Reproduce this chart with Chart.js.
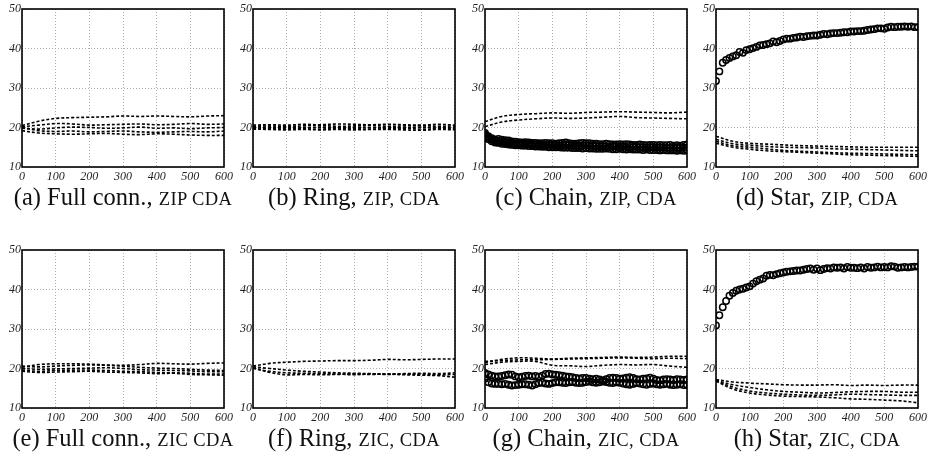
<!DOCTYPE html>
<html>
<head>
<meta charset="utf-8">
<script src="https://cdn.jsdelivr.net/npm/chart.js@4/dist/chart.umd.min.js"></script>
<style>
  body { margin: 0; background: #fff; }
  #fig { position: relative; width: 929px; height: 460px; overflow: hidden; background: #fff; }
  canvas { position: absolute; }
  .cap { position: absolute; width: 240px; text-align: center; font-family: 'Liberation Serif', 'DejaVu Serif', serif;
         font-size: 24.5px; line-height: 28px; color: #111; white-space: nowrap; }
  .sc { font-size: 18.5px; letter-spacing: 0.4px; }
</style>
</head>
<body>
<div id="fig"></div>
<script>
// x positions: dashed curves sampled every 50, marker curves every 10
var xCoarse = [0, 50, 100, 150, 200, 250, 300, 350, 400, 450, 500, 550, 600];
var xFine = [0, 10, 20, 30, 40, 50, 60, 70, 80, 90, 100, 110, 120, 130, 140, 150, 160, 170, 180, 190, 200,
             210, 220, 230, 240, 250, 260, 270, 280, 290, 300, 310, 320, 330, 340, 350, 360, 370, 380, 390, 400,
             410, 420, 430, 440, 450, 460, 470, 480, 490, 500, 510, 520, 530, 540, 550, 560, 570, 580, 590, 600];

// (a) Full conn., ZIP
var fullZip1 = [20.5, 21.6, 22.3, 22.5, 22.6, 22.7, 22.9, 22.8, 22.9, 22.8, 22.7, 22.9, 23.0];
var fullZip2 = [20.2, 20.6, 21.0, 20.9, 20.6, 20.7, 20.8, 20.9, 20.7, 20.8, 21.0, 20.8, 20.9];
var fullZip3 = [19.8, 19.6, 19.9, 20.1, 20.0, 19.8, 19.9, 20.1, 19.8, 19.9, 19.7, 19.9, 20.0];
var fullZip4 = [20.0, 19.2, 19.0, 19.1, 18.9, 19.0, 19.1, 18.9, 18.8, 18.9, 19.0, 18.9, 19.1];
var fullZip5 = [19.2, 18.6, 18.4, 18.3, 18.4, 18.5, 18.3, 18.2, 18.4, 18.3, 18.1, 18.0, 18.0];

// (b) Ring, ZIP
var ringZip1 = [20.6, 20.7, 20.6, 20.8, 20.7, 20.9, 20.8, 20.7, 20.8, 20.7, 20.6, 20.8, 20.6];
var ringZip2 = [20.3, 20.4, 20.3, 20.4, 20.5, 20.3, 20.4, 20.5, 20.3, 20.4, 20.5, 20.3, 20.4];
var ringZip3 = [20.0, 20.1, 20.0, 19.9, 20.1, 20.0, 20.1, 20.0, 19.9, 20.0, 20.1, 20.0, 20.0];
var ringZip4 = [19.8, 19.7, 19.8, 19.7, 19.6, 19.8, 19.7, 19.6, 19.7, 19.8, 19.6, 19.7, 19.7];
var ringZip5 = [19.6, 19.5, 19.4, 19.5, 19.4, 19.5, 19.4, 19.5, 19.5, 19.4, 19.3, 19.5, 19.4];

// (c) Chain, ZIP
var chainZipD1 = [21.5, 22.8, 23.3, 23.5, 23.7, 23.6, 23.8, 23.9, 24.0, 23.9, 23.8, 23.7, 23.9];
var chainZipD2 = [20.2, 21.4, 21.9, 22.2, 22.4, 22.3, 22.4, 22.6, 22.8, 22.5, 22.4, 22.3, 22.2];
var chainZipM1 = [18.6, 17.8, 17.3, 17.0, 17.1, 16.9, 16.8, 16.7, 16.5, 16.4, 16.3, 16.2, 16.3, 16.2, 16.1, 16.1, 16.0, 16.0, 16.1, 16.0, 16.0,
                  15.9, 16.0, 16.1, 16.2, 16.0, 15.9, 15.9, 16.0, 16.1, 16.0, 16.0, 15.9, 15.9, 15.8, 15.8, 15.9, 15.8, 15.7, 15.7, 15.8,
                  15.7, 15.8, 15.7, 15.6, 15.6, 15.7, 15.6, 15.5, 15.6, 15.6, 15.5, 15.6, 15.5, 15.5, 15.6, 15.4, 15.5, 15.4, 15.6, 15.7];
var chainZipM2 = [18.2, 17.4, 16.9, 16.6, 16.6, 16.4, 16.3, 16.2, 16.0, 15.9, 15.9, 15.8, 15.9, 15.8, 15.7, 15.7, 15.6, 15.6, 15.5, 15.5, 15.6,
                  15.5, 15.4, 15.5, 15.6, 15.5, 15.4, 15.4, 15.3, 15.4, 15.5, 15.4, 15.3, 15.3, 15.2, 15.3, 15.2, 15.1, 15.2, 15.2, 15.1,
                  15.2, 15.1, 15.0, 15.1, 15.1, 15.0, 15.0, 14.9, 15.0, 15.0, 14.9, 15.0, 14.9, 14.9, 14.8, 14.9, 14.8, 14.8, 14.9, 14.9];
var chainZipM3 = [18.0, 17.0, 16.5, 16.2, 16.1, 15.9, 15.8, 15.7, 15.6, 15.5, 15.5, 15.4, 15.4, 15.3, 15.3, 15.2, 15.2, 15.1, 15.1, 15.0, 15.0,
                  15.0, 15.0, 14.9, 14.9, 14.9, 14.8, 14.8, 14.8, 14.7, 14.8, 14.7, 14.7, 14.6, 14.6, 14.6, 14.7, 14.6, 14.5, 14.5, 14.6,
                  14.5, 14.4, 14.5, 14.4, 14.4, 14.4, 14.3, 14.4, 14.3, 14.3, 14.3, 14.2, 14.3, 14.2, 14.2, 14.2, 14.1, 14.2, 14.1, 14.2];

// (d) Star, ZIP
var starZipD1 = [17.8, 16.5, 16.0, 15.8, 15.6, 15.4, 15.3, 15.2, 15.1, 15.0, 15.0, 15.0, 15.0];
var starZipD2 = [17.0, 15.9, 15.5, 15.2, 15.0, 14.9, 14.8, 14.6, 14.5, 14.4, 14.3, 14.2, 14.1];
var starZipD3 = [16.5, 15.4, 15.0, 14.6, 14.2, 14.0, 13.8, 13.6, 13.5, 13.4, 13.3, 13.2, 13.1];
var starZipD4 = [16.0, 15.0, 14.5, 14.1, 13.9, 13.7, 13.5, 13.3, 13.1, 13.0, 12.9, 12.8, 12.7];
var starZipM1 = [31.8, 34.2, 36.4, 37.1, 37.6, 38.0, 38.3, 39.1, 38.9, 39.6, 39.8, 40.1, 40.4, 40.8, 40.9, 41.1, 41.3, 41.8, 41.6, 41.9, 42.3,
                 42.5, 42.5, 42.7, 42.8, 43.0, 42.9, 43.1, 43.2, 43.3, 43.3, 43.5, 43.7, 43.6, 43.8, 43.9, 43.9, 44.0, 44.1, 44.1, 44.3,
                 44.3, 44.4, 44.4, 44.5, 44.7, 44.8, 44.9, 45.1, 45.1, 45.0, 45.3, 45.5, 45.4, 45.5, 45.5, 45.6, 45.5, 45.6, 45.4, 45.4];

// (e) Full conn., ZIC
var fullZic1 = [20.3, 21.0, 21.2, 21.2, 21.1, 20.9, 20.8, 21.0, 21.3, 21.2, 21.1, 21.3, 21.4];
var fullZic2 = [20.6, 20.4, 20.6, 20.8, 20.9, 20.8, 20.6, 20.3, 20.1, 20.0, 19.8, 19.6, 19.5];
var fullZic3 = [20.0, 19.8, 19.9, 20.0, 20.1, 20.2, 20.0, 19.7, 19.6, 19.5, 19.4, 19.2, 19.2];
var fullZic4 = [19.6, 19.3, 19.5, 19.6, 19.6, 19.5, 19.3, 19.2, 19.0, 18.9, 18.8, 18.6, 18.6];
var fullZic5 = [19.3, 19.0, 19.1, 19.2, 19.3, 19.1, 19.0, 18.9, 18.7, 18.8, 18.5, 18.4, 18.3];

// (f) Ring, ZIC
var ringZic1 = [20.6, 21.3, 21.6, 21.8, 21.9, 22.0, 22.0, 22.1, 22.3, 22.2, 22.3, 22.4, 22.4];
var ringZic2 = [20.4, 20.0, 19.6, 19.3, 19.1, 18.9, 18.8, 18.7, 18.6, 18.7, 18.8, 18.7, 18.9];
var ringZic3 = [20.2, 19.0, 18.4, 18.5, 18.4, 18.5, 18.6, 18.5, 18.6, 18.4, 18.3, 18.2, 17.8];
var ringZic4 = [20.0, 19.3, 18.9, 18.8, 18.7, 18.6, 18.4, 18.6, 18.5, 18.6, 18.5, 18.4, 18.5];

// (g) Chain, ZIC
var chainZicD1 = [21.5, 22.3, 22.7, 22.6, 22.4, 22.6, 22.7, 22.8, 22.9, 22.8, 22.9, 23.1, 23.1];
var chainZicD2 = [21.8, 22.0, 22.2, 22.2, 22.3, 22.4, 22.5, 22.6, 22.7, 22.6, 22.5, 22.6, 22.5];
var chainZicD3 = [21.0, 21.6, 21.8, 21.8, 20.8, 20.7, 20.5, 20.8, 21.0, 20.9, 21.0, 20.6, 20.3];
var chainZicM1 = [18.9, 18.5, 18.2, 18.0, 18.0, 18.1, 18.3, 18.5, 18.4, 18.0, 17.8, 17.9, 18.1, 18.2, 18.0, 18.1, 17.9, 18.2, 18.6, 18.7, 18.5,
                  18.4, 18.3, 18.2, 18.0, 17.9, 17.8, 17.6, 17.5, 17.6, 17.6, 17.4, 17.3, 17.4, 17.2, 17.0, 17.3, 17.6, 17.7, 17.6, 17.4,
                  17.5, 17.7, 17.8, 17.6, 17.3, 17.2, 17.4, 17.5, 17.7, 17.4, 17.1, 17.0, 17.2, 17.3, 17.2, 17.1, 17.3, 17.2, 17.1, 17.2];
var chainZicM2 = [17.4, 16.5, 16.2, 16.1, 16.1, 16.0, 16.1, 15.9, 15.7, 15.8, 15.9, 16.0, 16.0, 15.9, 15.7, 16.0, 16.3, 16.4, 16.2, 16.1, 16.3,
                  16.5, 16.5, 16.4, 16.3, 16.5, 16.6, 16.4, 16.3, 16.4, 16.6, 16.7, 16.5, 16.4, 16.5, 16.7, 16.6, 16.4, 16.3, 16.5, 16.4,
                  16.2, 16.0, 15.9, 16.1, 16.3, 16.2, 16.0, 15.9, 16.1, 16.2, 16.0, 15.9, 16.0, 16.1, 15.9, 15.8, 15.9, 16.0, 15.8, 15.8];

// (h) Star, ZIC
var starZicD1 = [17.2, 16.6, 16.3, 16.1, 15.9, 15.8, 15.8, 15.9, 15.7, 15.8, 15.7, 15.8, 15.8];
var starZicD2 = [17.0, 15.9, 15.2, 14.6, 14.2, 14.0, 13.8, 13.9, 14.1, 14.2, 14.2, 14.0, 14.0];
var starZicD3 = [16.9, 15.3, 14.3, 13.8, 13.5, 13.3, 13.2, 13.3, 13.5, 13.4, 13.3, 13.2, 13.2];
var starZicD4 = [16.8, 14.8, 13.8, 13.3, 13.0, 12.9, 12.8, 12.6, 12.3, 12.2, 12.0, 11.8, 11.3];
var starZicM1 = [30.9, 33.5, 35.5, 37.1, 38.4, 39.1, 39.7, 40.0, 40.2, 40.5, 40.8, 41.5, 42.1, 42.5, 42.8, 43.5, 43.7, 43.6, 43.9, 44.1, 44.3,
                 44.5, 44.6, 44.7, 44.8, 44.8, 45.0, 45.2, 45.3, 45.0, 45.3, 44.9, 45.2, 45.4, 45.3, 45.6, 45.5, 45.6, 45.3, 45.7, 45.5,
                 45.5, 45.4, 45.6, 45.3, 45.7, 45.5, 45.6, 45.8, 45.6, 45.7, 45.6, 45.9, 45.8, 45.5, 45.6, 45.7, 45.6, 45.7, 45.8, 45.8];

var xTicksMin = 0, xTicksMax = 600, xStep = 100;
var yTicksMin = 10, yTicksMax = 50, yStep = 10;

var panels = [
  { left: 22,  top: 9,   dashed: [fullZip1, fullZip2, fullZip3, fullZip4, fullZip5], marks: [],
    cap: ['(a) Full conn., ', 'ZIP CDA'] },
  { left: 253, top: 9,   dashed: [ringZip1, ringZip2, ringZip3, ringZip4, ringZip5], marks: [],
    cap: ['(b) Ring, ', 'ZIP, CDA'] },
  { left: 485, top: 9,   dashed: [chainZipD1, chainZipD2], marks: [chainZipM1, chainZipM2, chainZipM3],
    cap: ['(c) Chain, ', 'ZIP, CDA'] },
  { left: 716, top: 9,   dashed: [starZipD1, starZipD2, starZipD3, starZipD4], marks: [starZipM1],
    cap: ['(d) Star, ', 'ZIP, CDA'] },
  { left: 22,  top: 250, dashed: [fullZic1, fullZic2, fullZic3, fullZic4, fullZic5], marks: [],
    cap: ['(e) Full conn., ', 'ZIC CDA'] },
  { left: 253, top: 250, dashed: [ringZic1, ringZic2, ringZic3, ringZic4], marks: [],
    cap: ['(f) Ring, ', 'ZIC, CDA'] },
  { left: 485, top: 250, dashed: [chainZicD1, chainZicD2, chainZicD3], marks: [chainZicM1, chainZicM2],
    cap: ['(g) Chain, ', 'ZIC, CDA'] },
  { left: 716, top: 250, dashed: [starZicD1, starZicD2, starZicD3, starZicD4], marks: [starZicM1],
    cap: ['(h) Star, ', 'ZIC, CDA'] }
];

Chart.defaults.font.family = "'Liberation Serif', 'DejaVu Serif', serif";
Chart.defaults.font.style = 'italic';
Chart.defaults.font.size = 12;
Chart.defaults.color = '#222';

// black box round the plot area
var frame = {
  id: 'frame',
  afterDatasetsDraw: function(chart) {
    var a = chart.chartArea, c = chart.ctx;
    c.save();
    c.strokeStyle = '#000';
    c.lineWidth = 1.6;
    c.strokeRect(a.left, a.top, a.right - a.left, a.bottom - a.top);
    c.restore();
  }
};

function pairs(xs, ys) {
  return ys.map(function(v, i) { return { x: xs[i], y: v }; });
}

var fig = document.getElementById('fig');

panels.forEach(function(p) {
  var cv = document.createElement('canvas');
  cv.width = 240; cv.height = 190;
  cv.style.left = (p.left - 22) + 'px';
  cv.style.top = (p.top - 9) + 'px';
  fig.appendChild(cv);

  var sets = [];
  p.dashed.forEach(function(ys) {
    sets.push({
      data: pairs(xCoarse, ys),
      borderColor: '#000',
      borderWidth: 1.6,
      borderDash: [3, 2],
      pointRadius: 0,
      tension: 0.35,
      fill: false
    });
  });
  p.marks.forEach(function(ys) {
    sets.push({
      data: pairs(xFine, ys),
      showLine: false,
      pointStyle: 'circle',
      pointRadius: 3.2,
      pointBorderWidth: 1.5,
      pointBorderColor: '#000',
      pointBackgroundColor: 'rgba(0,0,0,0)'
    });
  });

  new Chart(cv.getContext('2d'), {
    type: 'line',
    data: { datasets: sets },
    options: {
      responsive: false,
      animation: false,
      events: [],
      layout: { padding: { left: 0, top: 9, right: 16, bottom: 3 } },
      plugins: { legend: { display: false }, tooltip: { enabled: false } },
      scales: {
        x: {
          type: 'linear', min: xTicksMin, max: xTicksMax,
          ticks: { stepSize: xStep, padding: 3, maxRotation: 0, autoSkip: false },
          grid: { color: '#999', lineWidth: 0.8, drawTicks: false },
          border: { display: false, dash: [1, 2] },
          afterFit: function(s) { s.height = 20; }
        },
        y: {
          min: yTicksMin, max: yTicksMax,
          ticks: { stepSize: yStep, padding: 1 },
          grid: { color: '#999', lineWidth: 0.8, drawTicks: false },
          border: { display: false, dash: [1, 2] },
          afterFit: function(s) { s.width = 22; }
        }
      }
    },
    plugins: [frame]
  });

  var cap = document.createElement('div');
  cap.className = 'cap';
  cap.style.left = (p.left - 19) + 'px';
  cap.style.top = (p.top + 174) + 'px';
  cap.appendChild(document.createTextNode(p.cap[0]));
  var sc = document.createElement('span');
  sc.className = 'sc';
  sc.textContent = p.cap[1];
  cap.appendChild(sc);
  fig.appendChild(cap);
});
</script>
</body>
</html>
